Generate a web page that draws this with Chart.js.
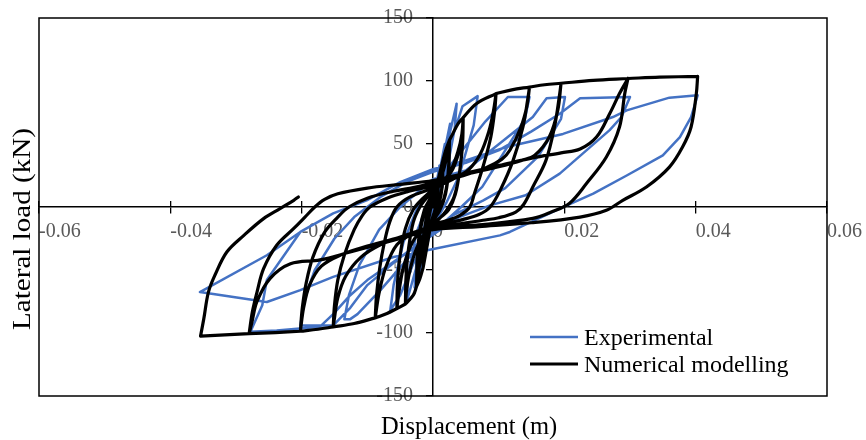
<!DOCTYPE html>
<html>
<head>
<meta charset="utf-8">
<script src="https://cdn.jsdelivr.net/npm/chart.js@4.4.1/dist/chart.umd.min.js"></script>
<style>
  html, body { margin: 0; padding: 0; background: #ffffff; }
  #wrap { width: 866px; height: 440px; position: relative; }
</style>
</head>
<body>
<div id="wrap"><canvas id="c" width="866" height="440"></canvas></div>
<script>
// ---------- DATA ----------
const xTickValues = [-0.06, -0.04, -0.02, 0, 0.02, 0.04, 0.06];
const xTickLabels = ['-0.06', '-0.04', '-0.02', '0', '0.02', '0.04', '0.06'];
const yTickValues = [-150, -100, -50, 0, 50, 100, 150];
const yTickLabels = ['-150', '-100', '-50', '0', '50', '100', '150'];
const xTitle = 'Displacement (m)';
const yTitle = 'Lateral load (kN)';
const seriesNames = ['Experimental', 'Numerical modelling'];

// Experimental (blue) – displacement (m) and load (kN), in loading order
const expDisp = [
  0, 0.0005, 0.001, 0.0007, 0, -0.0005, -0.001, -0.0007, 0, 0.001, 0.0018, 0.0015, 0.0005, -0.0008, -0.0018, -0.0015, -0.0005,
  0.001, 0.0026, 0.0023, 0.001, -0.001, -0.0028, -0.0025, -0.001, 0.001, 0.0036, 0.0033, 0.002, 0, -0.002, -0.004, -0.0038, -0.0025,
  0, 0.002, 0.0045, 0.0068,
  0.0062, 0.004, 0.002, 0, -0.003, -0.005, -0.0065,
  -0.006, -0.0045, -0.0025, 0, 0.004, 0.008, 0.0114, 0.0147,
  0.014, 0.011, 0.0075, 0.0045, 0, -0.004, -0.008, -0.0115, -0.0126, -0.0135,
  -0.0128, -0.0112, -0.0082, -0.005, 0, 0.005, 0.0102, 0.0152, 0.0173, 0.0201,
  0.0195, 0.016, 0.011, 0.0076, 0.003, 0, -0.005, -0.01, -0.0126, -0.0152, -0.0202,
  -0.0195, -0.018, -0.015, -0.012, -0.008, -0.004, 0, 0.005, 0.01, 0.015, 0.0193, 0.0224, 0.03,
  0.0287, 0.0269, 0.0193, 0.0141, 0.0087, 0.004, 0, -0.005, -0.01, -0.0126, -0.0152, -0.0172, -0.0238, -0.0278,
  -0.026, -0.0253, -0.0202, -0.0152, -0.0101, -0.005, 0, 0.005, 0.0112, 0.0198, 0.0274, 0.0295, 0.036, 0.0403,
  0.0393, 0.0376, 0.035, 0.0295, 0.0244, 0.0193, 0.0117, 0.0102, -0.0005, -0.006, -0.0152, -0.0202, -0.0253, -0.0355,
  -0.0253, -0.0202
];
const expLoad = [
  0, 18, 33, 15, -2, -18, -33, -15, 3, 28, 50, 30, 2, -28, -52, -32, -3,
  25, 66, 42, 8, -25, -64, -42, -8, 24, 82, 62, 26, -8, -38, -75, -55, -20,
  12, 40, 80, 88,
  65, 25, 3, -15, -45, -70, -82,
  -62, -28, -2, 16, 42, 68, 87.3, 87.3,
  70, 45, 16, 1, -20, -42, -66, -85, -89, -89,
  -70, -46, -18, 0, 22, 29, 50.6, 71.4, 86.3, 87.3,
  70, 40, 15, 5, -6.6, -20, -40, -62, -80, -94, -94,
  -72, -50, -25, -8, 8, 20, 28, 35, 45, 60, 74, 86.3, 87.3,
  71.4, 61, 26.5, 9.3, 1.3, -8, -22, -40, -58, -70, -85, -95, -98, -99,
  -78, -58, -19.8, -5, 5.3, 19.8, 30, 37, 47.6, 58, 71.4, 76.7, 86.8, 88.6,
  71.4, 55.5, 41, 25, 10.6, -1.3, -19.8, -22.5, -34, -39.7, -55.5, -66, -75.4, -67.5,
  -38.3, -19.8
];

// Numerical modelling (black) – branches between reversal points, separated by null
const numDisp = [
  0, 0.0004, 0.0008, null,
  0.0008, 0.0007, 0.0003, 0, -0.0004, -0.0008, null,
  -0.0008, -0.0007, -0.0003, 0, 0.0004, 0.0008, null,
  0.0008, 0.0007, 0.0002, 0, -0.0005, -0.0008, null,
  -0.0008, -0.0007, -0.0002, 0, 0.0005, 0.0008, null,
  0.0008, 0.0015, null,
  0.0015, 0.0014, 0.001, 0.0004, 0, -0.0005, -0.0008, null,
  -0.0008, -0.0015, null,
  -0.0015, -0.0014, -0.001, -0.0004, 0, 0.0006, 0.0011, 0.0015, null,
  0.0015, 0.0014, 0.0009, 0.0003, 0, -0.0006, -0.0011, -0.0015, null,
  -0.0015, -0.0013, -0.0008, 0, 0.0006, 0.0012, 0.0015, null,
  0.0015, 0.002, 0.0025, null,
  0.0025, 0.0024, 0.002, 0.0012, 0, -0.0008, -0.0013, -0.0015, null,
  -0.0015, -0.002, -0.0025, null,
  -0.0025, -0.0024, -0.002, -0.0013, -0.0005, 0, 0.0008, 0.0015, 0.0021, 0.0025, null,
  0.0025, 0.0024, 0.0019, 0.001, 0, -0.0009, -0.0016, -0.0021, -0.0025, null,
  -0.0025, -0.0023, -0.0018, -0.001, 0, 0.001, 0.0018, 0.0023, 0.0025, null,
  0.0025, 0.003, 0.0038, 0.0046, null,
  0.0046, 0.0045, 0.0041, 0.0034, 0.0024, 0.0012, 0, -0.0012, -0.002, -0.0024, -0.0025, null,
  -0.0025, -0.003, -0.0042, null,
  -0.0042, -0.0041, -0.0037, -0.003, -0.002, -0.001, 0, 0.0014, 0.0028, 0.0038, 0.0044, 0.0046, null,
  0.0046, 0.0045, 0.004, 0.0032, 0.002, 0.001, 0, -0.0014, -0.0026, -0.0035, -0.004, -0.0042, null,
  -0.0042, -0.0055, null,
  -0.0055, -0.0054, -0.005, -0.0042, -0.003, -0.0015, 0, 0.0015, 0.003, 0.004, 0.0045, 0.0046, null,
  0.0046, 0.0066, 0.0096, null,
  0.0096, 0.0094, 0.0088, 0.0076, 0.0063, 0.0056, 0.0041, 0.002, 0, -0.002, -0.0035, -0.0046, -0.0052, -0.0055, null,
  -0.0055, -0.007, -0.0088, null,
  -0.0088, -0.0086, -0.0081, -0.0074, -0.0066, -0.0055, -0.0035, 0, 0.003, 0.0055, 0.0072, 0.0085, 0.0092, 0.0096, null,
  0.0096, 0.012, 0.0147, null,
  0.0147, 0.0144, 0.0137, 0.0122, 0.0103, 0.0087, 0.007, 0.0045, 0.002, 0, -0.003, -0.0055, -0.0072, -0.0082, -0.0088, null,
  -0.0088, -0.012, -0.0152, null,
  -0.0152, -0.015, -0.0145, -0.0135, -0.012, -0.0108, -0.0096, -0.007, -0.004, 0, 0.004, 0.008, 0.0105, 0.0117, 0.0134, 0.0143, 0.0147, null,
  0.0147, 0.017, 0.0195, null,
  0.0195, 0.0193, 0.0185, 0.0172, 0.0152, 0.0138, 0.0126, 0.01, 0.0076, 0.0026, 0, -0.004, -0.008, -0.011, -0.0133, -0.0145, -0.015, -0.0152, null,
  -0.0152, -0.0175, -0.0202, null,
  -0.0202, -0.0199, -0.0193, -0.0183, -0.0165, -0.0145, -0.0128, -0.01, -0.006, -0.003, 0, 0.005, 0.01, 0.0135, 0.0155, 0.0177, 0.019, 0.0195, null,
  0.0195, 0.0244, 0.0297, null,
  0.0297, 0.0292, 0.0284, 0.0264, 0.0234, 0.0208, 0.018, 0.0152, 0.0076, 0, -0.005, -0.01, -0.014, -0.017, -0.0188, -0.0197, -0.0202, null,
  -0.0202, -0.024, -0.028, null,
  -0.028, -0.0275, -0.0268, -0.0258, -0.0238, -0.0212, -0.0195, -0.018, -0.0165, -0.0145, -0.01, -0.005, 0, 0.005, 0.0101, 0.0152, 0.0195, 0.0224, 0.0249, 0.0269, 0.0284, 0.0297, null,
  0.0297, 0.0345, 0.0403, null,
  0.0403, 0.0401, 0.0393, 0.038, 0.036, 0.0325, 0.0289, 0.0264, 0.0224, 0.015, 0.007, 0, -0.005, -0.0126, -0.0172, -0.0217, -0.0248, -0.0268, -0.0276, -0.028, null,
  -0.028, -0.0354, null,
  -0.0354, -0.0349, -0.0342, -0.0332, -0.0314, -0.0288, -0.0258, -0.0233, -0.0212, -0.0205
];
const numLoad = [
  0, 12, 22, null,
  22, 8, -3, -7, -16, -28, null,
  -28, -12, 0, 5, 13, 22, null,
  22, 6, -4, -8, -18, -28, null,
  -28, -10, 2, 6, 15, 22, null,
  22, 37, null,
  37, 18, 4, -4, -8, -16, -28, null,
  -28, -48, null,
  -48, -26, -8, 3, 8, 17, 27, 37, null,
  37, 16, 2, -6, -10, -20, -32, -48, null,
  -48, -24, -5, 7, 16, 28, 37, null,
  37, 46, 53, null,
  53, 34, 14, 0, -10, -19, -32, -48, null,
  -48, -57, -63, null,
  -63, -40, -18, -2, 6, 10, 18, 28, 40, 53, null,
  53, 30, 10, -3, -11, -20, -34, -48, -63, null,
  -63, -38, -15, 0, 11, 20, 33, 45, 53, null,
  53, 58, 66, 71, null,
  71, 52, 30, 10, -2, -8, -13, -21, -35, -50, -63, null,
  -63, -70, -77, null,
  -77, -55, -32, -12, 0, 7, 12, 19, 30, 44, 58, 71, null,
  71, 50, 26, 8, -3, -9, -14, -22, -34, -50, -65, -77, null,
  -77, -80.6, null,
  -80.6, -60, -38, -17, -2, 7, 14, 20, 30, 45, 60, 71, null,
  71, 82, 90, null,
  90, 76.7, 55.5, 31.7, 10.6, 0, -6.6, -11, -14, -20, -32, -50, -68, -80.6, null,
  -80.6, -84.5, -88, null,
  -88, -70, -48, -28, -12, 0, 8, 15, 22, 30, 42, 60, 76, 90, null,
  90, 93, 95.2, null,
  95.2, 84.7, 63.5, 37, 14, 0, -6, -10, -13, -15, -21, -30, -48, -68, -88, null,
  -88, -92.5, -95.2, null,
  -95.2, -78, -58, -38, -18, -7, 0, 7, 12, 17, 24, 31, 38, 45, 63.5, 80, 95.2, null,
  95.2, 97, 98.2, null,
  98.2, 90, 63.5, 37, 15.9, 2, -4, -8.5, -10.5, -14.5, -16, -22, -30, -40, -55, -72, -88, -95.2, null,
  -95.2, -97, -98.6, null,
  -98.6, -80, -60, -40, -20, -8, 0, 7, 12.5, 15.5, 19, 26, 32, 37, 41, 55.5, 76.7, 98.2, null,
  98.2, 100.5, 102, null,
  102, 90, 63.5, 39.7, 18.8, 3, -4, -9, -14, -17, -24, -31, -38, -47, -62, -80, -98.6, null,
  -98.6, -99.7, -100.5, null,
  -100.5, -83, -67.5, -49, -30.4, -17, -8, 0, 6, 10.5, 15, 18, 21, 27, 33, 39, 43, 46, 55.5, 74, 90, 102, null,
  102, 103, 103.7, null,
  103.7, 90, 63.5, 47.6, 31.7, 15.9, 5.3, -2.6, -8, -12.5, -15.5, -18, -25, -35.7, -42, -45, -56.6, -75, -92, -100.5, null,
  -100.5, -102.5, null,
  -102.5, -88.6, -67.5, -54, -35.7, -22.5, -9.2, -1.3, 5.3, 8
];

// ---------- CHART ----------
const serif = '"Liberation Serif", "Times New Roman", Times, serif';
const toPoints = (xs, ys) => xs.map((x, i) => ({ x: x, y: ys[i] }));
const noSidePadding = s => { s.paddingLeft = 0; s.paddingRight = 0; };

const decor = {
  id: 'decor',
  afterDraw(chart) {
    const { ctx, chartArea: a } = chart;
    ctx.save();
    ctx.strokeStyle = '#000000';
    ctx.lineWidth = 1.5;
    ctx.strokeRect(a.left, a.top, a.right - a.left, a.bottom - a.top);

    ctx.fillStyle = '#000000';
    ctx.font = '24.5px ' + serif;
    ctx.textAlign = 'center';
    ctx.textBaseline = 'alphabetic';
    ctx.fillText(xTitle, 469, 434);

    ctx.save();
    ctx.translate(30, 229);
    ctx.rotate(-Math.PI / 2);
    const w = ctx.measureText(yTitle).width;
    ctx.scale(202 / w, 1);
    ctx.fillText(yTitle, 0, 0);
    ctx.restore();

    // legend
    const ds = chart.data.datasets;
    const rows = [337, 364];
    ctx.font = '24px ' + serif;
    ctx.textAlign = 'left';
    ctx.textBaseline = 'alphabetic';
    ds.forEach((d, i) => {
      ctx.beginPath();
      ctx.strokeStyle = d.borderColor;
      ctx.lineWidth = d.borderWidth;
      ctx.moveTo(530, rows[i]);
      ctx.lineTo(578, rows[i]);
      ctx.stroke();
      ctx.fillStyle = '#000000';
      ctx.fillText(d.label, 584, rows[i] + 7.5);
    });
    ctx.restore();
  }
};

const tickFont = { family: serif, size: 20 };

new Chart(document.getElementById('c'), {
  type: 'scatter',
  data: {
    datasets: [
      {
        label: seriesNames[0],
        data: toPoints(expDisp, expLoad),
        showLine: true,
        borderColor: '#4472C4',
        borderWidth: 2.5,
        pointRadius: 0,
        tension: 0,
        borderJoinStyle: 'round',
        order: 2
      },
      {
        label: seriesNames[1],
        data: toPoints(numDisp, numLoad),
        showLine: true,
        spanGaps: false,
        borderColor: '#000000',
        borderWidth: 3.2,
        pointRadius: 0,
        tension: 0.35,
        borderJoinStyle: 'round',
        borderCapStyle: 'round',
        order: 1
      }
    ]
  },
  options: {
    responsive: false,
    animation: false,
    devicePixelRatio: 1,
    layout: { padding: { left: 39, right: 39, top: 18, bottom: 44 } },
    plugins: { legend: { display: false }, tooltip: { enabled: false } },
    scales: {
      x: {
        type: 'linear',
        min: -0.06, max: 0.06,
        position: { y: 0 },
        afterBuildTicks: s => { s.ticks = xTickValues.map(v => ({ value: v })); },
        afterFit: noSidePadding,
        ticks: {
          align: 'start',
          color: '#595959',
          font: tickFont,
          padding: 7,
          maxRotation: 0,
          autoSkip: false,
          callback: (v, i) => xTickLabels[i]
        },
        grid: { drawOnChartArea: false, drawTicks: true, tickLength: 6, color: '#000000', lineWidth: 1.3 },
        border: { display: true, color: '#000000', width: 1.5 }
      },
      x2: {
        type: 'linear',
        axis: 'x',
        min: -0.06, max: 0.06,
        position: { y: 0 },
        afterBuildTicks: s => { s.ticks = xTickValues.map(v => ({ value: v })); },
        afterFit: noSidePadding,
        ticks: { display: false },
        grid: { drawOnChartArea: false, drawTicks: true, tickLength: -6, color: '#000000', lineWidth: 1.3 },
        border: { display: false }
      },
      y: {
        type: 'linear',
        min: -150, max: 150,
        position: { x: 0 },
        afterBuildTicks: s => { s.ticks = yTickValues.map(v => ({ value: v })); },
        ticks: {
          color: '#595959',
          font: tickFont,
          autoSkip: false,
          callback: (v, i) => yTickLabels[i] + '    '
        },
        grid: { drawOnChartArea: false, drawTicks: true, tickLength: 6, color: '#000000', lineWidth: 1.3 },
        border: { display: true, color: '#000000', width: 1.5 }
      }
    }
  },
  plugins: [decor]
});
</script>
</body>
</html>
